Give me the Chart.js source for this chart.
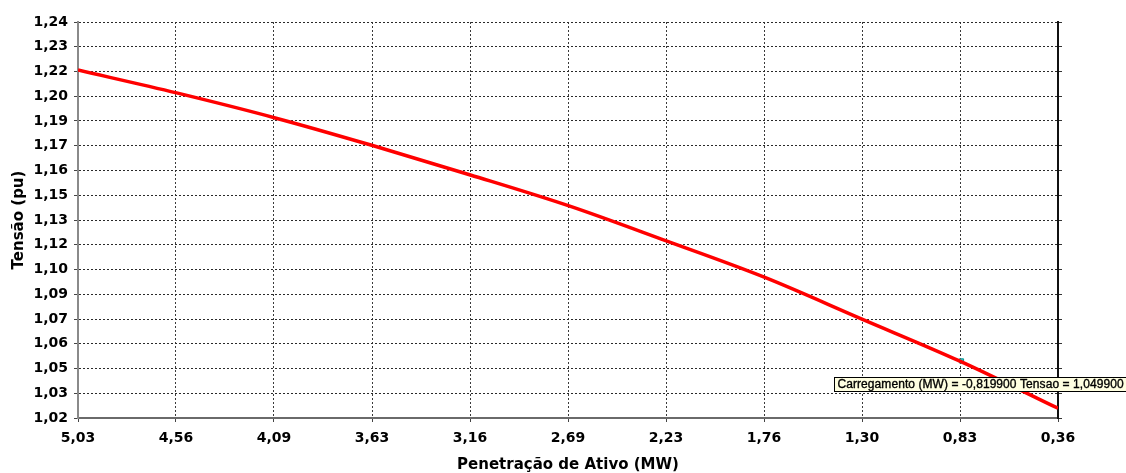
<!DOCTYPE html>
<html>
<head>
<meta charset="utf-8">
<script src="https://cdn.jsdelivr.net/npm/chart.js@4.4.1/dist/chart.umd.min.js"></script>
<style>
  html, body { margin: 0; padding: 0; background: #ffffff; }
  #wrap { width: 1126px; height: 473px; position: relative; }
</style>
</head>
<body>
<div id="wrap"><canvas id="c" width="1126" height="473"></canvas></div>
<script>
// ---- data ----
const penetracao = [5.03, 4.56, 4.09, 3.63, 3.16, 2.69, 2.23, 1.76, 1.30, 0.83, 0.36];
const tensao     = [1.2133, 1.2006, 1.1867, 1.1715, 1.1550, 1.1378, 1.1185, 1.0982, 1.0752, 1.0517, 1.0254];
const xTickLabels = ["5,03", "4,56", "4,09", "3,63", "3,16", "2,69", "2,23", "1,76", "1,30", "0,83", "0,36"];
const yTickLabels = ["1,02", "1,03", "1,05", "1,06", "1,07", "1,09", "1,10", "1,12", "1,13", "1,15", "1,16", "1,17", "1,19", "1,20", "1,22", "1,23", "1,24"];
const xMin = 0.36, xMax = 5.03;
const yMin = 1.02, yMax = 1.24;
const cursorX = [0.82];
const cursorY = [1.0517];
const cursorText = "Carregamento (MW) = -0,819900 Tensao = 1,049900";

const lineData = penetracao.map((x, i) => ({ x: x, y: tensao[i] }));
const cursorData = cursorX.map((x, i) => ({ x: x, y: cursorY[i] }));

function evenTicks(min, max, n) {
  const t = [];
  for (let i = 0; i < n; i++) t.push({ value: min + (max - min) * i / (n - 1) });
  return t;
}

const tickFont = { family: "'DejaVu Sans', sans-serif", size: 14, weight: 'bold' };

const cursorLabel = {
  id: 'cursorLabel',
  afterDatasetsDraw(chart) {
    const meta = chart.getDatasetMeta(1);
    if (!meta || !meta.data.length) return;
    const p = meta.data[0];
    const ctx = chart.ctx;
    ctx.save();
    ctx.font = "12px 'Liberation Sans', Arial, sans-serif";
    try { ctx.letterSpacing = '0.07px'; } catch (e) {}
    const w = ctx.measureText(cursorText).width + 10;
    const bx = Math.round(p.x) - 127 + 0.5;
    const by = Math.round(p.y) + 16 + 0.5;
    const bh = 14;
    ctx.fillStyle = '#ffffe1';
    ctx.fillRect(bx, by, w, bh);
    ctx.strokeStyle = '#000000';
    ctx.lineWidth = 1;
    ctx.strokeRect(bx, by, w, bh);
    ctx.fillStyle = '#000000';
    ctx.textBaseline = 'middle';
    ctx.textAlign = 'left';
    ctx.fillText(cursorText, bx + 3, by + bh / 2 + 0.5);
    ctx.lineWidth = 0.35;
    ctx.strokeText(cursorText, bx + 3, by + bh / 2 + 0.5);
    ctx.restore();
  }
};

new Chart(document.getElementById('c'), {
  type: 'line',
  data: {
    datasets: [
      {
        data: lineData,
        borderColor: '#ff0000',
        borderWidth: 3.5,
        pointRadius: 0,
        fill: false,
        cubicInterpolationMode: 'monotone'
      },
      {
        data: cursorData,
        showLine: false,
        pointStyle: 'rect',
        pointRadius: 3,
        backgroundColor: '#22d3d3',
        borderColor: '#0a8f8f',
        borderWidth: 1
      }
    ]
  },
  options: {
    responsive: false,
    animation: false,
    events: [],
    layout: { padding: { top: 22, right: 64, left: 0, bottom: 0 } },
    plugins: { legend: { display: false }, tooltip: { enabled: false } },
    scales: {
      x: {
        type: 'linear',
        reverse: true,
        min: xMin, max: xMax,
        afterBuildTicks: s => { s.ticks = evenTicks(xMin, xMax, xTickLabels.length); },
        afterFit: s => { s.height = 55; },
        ticks: {
          autoSkip: false, maxRotation: 0,
          callback: (v, i) => xTickLabels[xTickLabels.length - 1 - i],
          color: '#000000', font: tickFont, padding: 8
        },
        grid: { color: '#3a3a3a', lineWidth: 1, tickLength: 4, tickColor: '#444444' },
        border: { display: true, color: '#6a6a6a', width: 2, dash: [2, 2] },
        title: {
          display: true, text: 'Penetração de Ativo (MW)', color: '#000000',
          font: { family: "'DejaVu Sans', sans-serif", size: 15, weight: 'bold', lineHeight: 1.0 },
          padding: { top: 0, bottom: 0 }
        }
      },
      y: {
        type: 'linear',
        position: 'left',
        min: yMin, max: yMax,
        afterBuildTicks: s => { s.ticks = evenTicks(yMin, yMax, yTickLabels.length); },
        afterFit: s => { s.width = 78; },
        ticks: {
          autoSkip: false,
          callback: (v, i) => yTickLabels[i],
          color: '#000000', font: tickFont, padding: 6
        },
        grid: { color: '#2a2a2a', lineWidth: 1, tickLength: 4, tickColor: '#444444' },
        border: { display: true, color: '#8a8a8a', width: 2, dash: [2, 2] },
        title: {
          display: true, text: 'Tensão (pu)', color: '#000000',
          font: { family: "'DejaVu Sans', sans-serif", size: 15, weight: 'bold', lineHeight: 1.2 },
          padding: { top: 10, bottom: 0 }
        }
      },
      y2: {
        type: 'linear',
        position: 'right',
        min: yMin, max: yMax,
        afterBuildTicks: s => { s.ticks = evenTicks(yMin, yMax, yTickLabels.length); },
        afterFit: s => { s.width = 4; },
        ticks: { display: false },
        grid: { drawOnChartArea: false, tickLength: 4, tickColor: '#333333' },
        border: { display: true, color: '#111111', width: 2 }
      }
    }
  },
  plugins: [cursorLabel]
});
</script>
</body>
</html>
